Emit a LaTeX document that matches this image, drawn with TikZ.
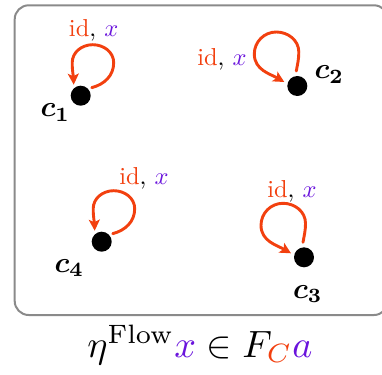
\documentclass[tikz,border=0pt]{standalone}
\usepackage{amsmath,bm}
\usetikzlibrary{arrows.meta}
\definecolor{lred}{HTML}{F2400F}
\definecolor{lpur}{HTML}{6A14DC}
\definecolor{framegray}{HTML}{8A8A8A}
\tikzset{
  dot/.style={circle,fill=black,inner sep=0pt,minimum size=20pt},
  loopy/.style={draw=lred,line width=2.9pt,line cap=round,
    -{Stealth[length=11pt,width=11pt,inset=2.5pt]}},
  lbl/.style={anchor=base,inner sep=0pt,font=\normalsize,scale=2.45},
  cname/.style={anchor=base west,inner sep=0pt,font=\normalsize,scale=2.9},
  frame/.style={draw=framegray,line width=2pt,rounded corners=14pt}
}
\newcommand{\idx}{{\color{lred}id}, {\color{lpur}$x$}}
% loop type A: starts right of dot, arrow comes down on the upper left
\newcommand{\loopA}[1]{%
  \draw[loopy] ([shift={(11,8)}]#1.center)
    to[out=15,in=-90] ([shift={(33,33)}]#1.center)
    to[out=90,in=0] ([shift={(12,51)}]#1.center)
    to[out=180,in=90] ([shift={(-8.5,33)}]#1.center)
    to[out=-90,in=92] ([shift={(-7,11)}]#1.center);}
% loop type B: starts on top of dot, arrow comes in from the left
\newcommand{\loopB}[1]{%
  \draw[loopy] ([shift={(-1,15)}]#1.center)
    to[out=80,in=-90] ([shift={(1.5,34)}]#1.center)
    to[out=90,in=0] ([shift={(-21,54)}]#1.center)
    to[out=180,in=90] ([shift={(-43,32)}]#1.center)
    to[out=-90,in=150] ([shift={(-13,4)}]#1.center);}
\begin{document}
\begin{tikzpicture}[x=1pt,y=1pt]
  \useasboundingbox (0,0) rectangle (382,-374);
  \draw[frame] (14.7,-5.3) rectangle (388,-315);

  \node[dot] (c1) at (80.7,-95.7) {};
  \node[dot] (c2) at (297.3,-86) {};
  \node[dot] (c4) at (101.7,-241.7) {};
  \node[dot] (c3) at (304,-257.3) {};

  \loopA{c1}
  \loopB{c2}
  \loopA{c4}
  \loopB{c3}

  \node[lbl] (l1) at (93.7,-36.7) {\idx};
  \node[lbl] (l2) at (222,-65.7) {\idx};
  \node[lbl] (l4) at (144,-184) {\idx};
  \node[lbl] (l3) at (292,-197.7) {\idx};

  \node[cname] (n1) at (40,-117) {$\bm{c}_{\bm{1}}$};
  \node[cname] (n2) at (314,-79) {$\bm{c}_{\bm{2}}$};
  \node[cname] (n4) at (54,-272.3) {$\bm{c}_{\bm{4}}$};
  \node[cname] (n3) at (292.5,-298.3) {$\bm{c}_{\bm{3}}$};

  \node[anchor=base,inner sep=0pt,font=\normalsize,scale=3.8] (eq) at (200,-357)
    {$\eta^{\mathrm{Flow}}{\color{lpur}x}\in F_{\color{lred}C}{\color{lpur}a}$};
\end{tikzpicture}
\end{document}
